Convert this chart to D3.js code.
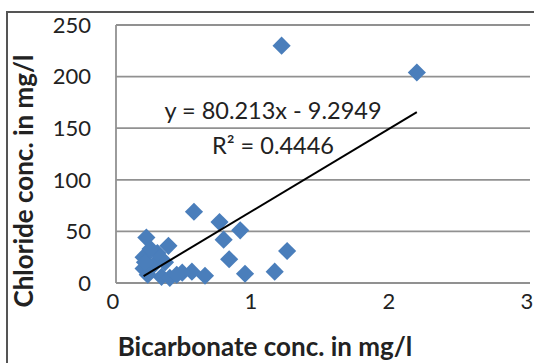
<!DOCTYPE html>
<html>
<head>
<meta charset="utf-8">
<script src="https://cdn.jsdelivr.net/npm/d3@7"></script>
<style>
  body { margin: 0; background: #fff; }
  svg { display: block; font-family: Lato, "Open Sans", sans-serif; }
</style>
</head>
<body>
<svg id="chart" width="534" height="363"></svg>
<script>
"use strict";

// data
const bicarbonate = [1.20, 2.18, 0.565, 0.75, 0.90, 0.78, 0.82, 1.24, 1.15, 0.935, 0.645, 0.55, 0.48,
  0.22, 0.38, 0.20, 0.20, 0.27, 0.33, 0.39, 0.44, 0.355, 0.30, 0.25, 0.23, 0.21];
const chloride = [230, 204, 69, 59, 51, 42, 23, 31, 11, 9, 7, 11, 10,
  44, 36, 25, 14, 17, 6, 5, 8, 20, 29, 33, 8, 20];
const xTicks = [0, 1, 2, 3];
const yTicks = [0, 50, 100, 150, 200, 250];
const fit = { slope: 80.213, intercept: -9.2949, r2: 0.4446 };

const svg = d3.select('#chart');
const plot = { left: 116, right: 530, top: 25, bottom: 283 };

const x = d3.scaleLinear().domain([0, 3]).range([plot.left, plot.right]);
const y = d3.scaleLinear().domain([0, 250]).range([plot.bottom, plot.top]);

// outer frame
svg.append('rect')
  .attr('x', 7).attr('y', 12).attr('width', 540).attr('height', 360)
  .attr('fill', 'none').attr('stroke', '#555').attr('stroke-width', 2);

// horizontal gridlines
svg.append('g')
  .selectAll('line')
  .data(yTicks.filter(d => d > 0))
  .join('line')
  .attr('x1', plot.left).attr('x2', plot.right)
  .attr('y1', d => y(d)).attr('y2', d => y(d))
  .attr('stroke', '#919191').attr('stroke-width', 1.8);

// axes lines
svg.append('line')
  .attr('x1', plot.left).attr('x2', plot.left).attr('y1', plot.top).attr('y2', plot.bottom)
  .attr('stroke', '#919191').attr('stroke-width', 1.8);
svg.append('line')
  .attr('x1', plot.left).attr('x2', plot.right).attr('y1', plot.bottom).attr('y2', plot.bottom)
  .attr('stroke', '#919191').attr('stroke-width', 1.8);

// tick labels
svg.append('g')
  .selectAll('text')
  .data(yTicks)
  .join('text')
  .attr('x', 91).attr('y', d => y(d))
  .attr('dy', '0.35em')
  .attr('text-anchor', 'end')
  .attr('font-size', 22).attr('fill', '#222')
  .text(d => d);

svg.append('g')
  .selectAll('text')
  .data(xTicks)
  .join('text')
  .attr('x', d => x(d) - 3).attr('y', 309)
  .attr('text-anchor', 'middle')
  .attr('font-size', 22).attr('fill', '#222')
  .text(d => d);

// axis titles
svg.append('text')
  .attr('x', 265).attr('y', 356)
  .attr('text-anchor', 'middle')
  .attr('font-size', 26).attr('font-weight', 'bold').attr('fill', '#222')
  .text('Bicarbonate conc. in mg/l');

svg.append('text')
  .attr('transform', 'translate(33,181) rotate(-90)')
  .attr('text-anchor', 'middle')
  .attr('font-size', 26).attr('font-weight', 'bold').attr('fill', '#222')
  .text('Chloride conc. in mg/l');

// points
const points = bicarbonate.map((b, i) => ({ b, c: chloride[i] }));
const diamond = d3.symbol(d3.symbolSquare, 165);

svg.append('g')
  .selectAll('path')
  .data(points)
  .join('path')
  .attr('d', diamond)
  .attr('transform', d => `translate(${x(d.b)},${y(d.c)}) rotate(45)`)
  .attr('fill', '#4a7ebb');

// trendline over the data range
const [xMin, xMax] = d3.extent(bicarbonate);
const line = d3.line().x(d => x(d)).y(d => y(fit.slope * d + fit.intercept));
svg.append('path')
  .attr('d', line([xMin, xMax]))
  .attr('fill', 'none').attr('stroke', '#000').attr('stroke-width', 2);

// equation labels
svg.append('text')
  .attr('x', 273).attr('y', 119)
  .attr('text-anchor', 'middle')
  .attr('font-size', 23.5).attr('fill', '#222')
  .text(`y = ${fit.slope}x - ${Math.abs(fit.intercept)}`);

svg.append('text')
  .attr('x', 273).attr('y', 154)
  .attr('text-anchor', 'middle')
  .attr('font-size', 23.5).attr('fill', '#222')
  .text(`R² = ${fit.r2}`);
</script>
</body>
</html>
